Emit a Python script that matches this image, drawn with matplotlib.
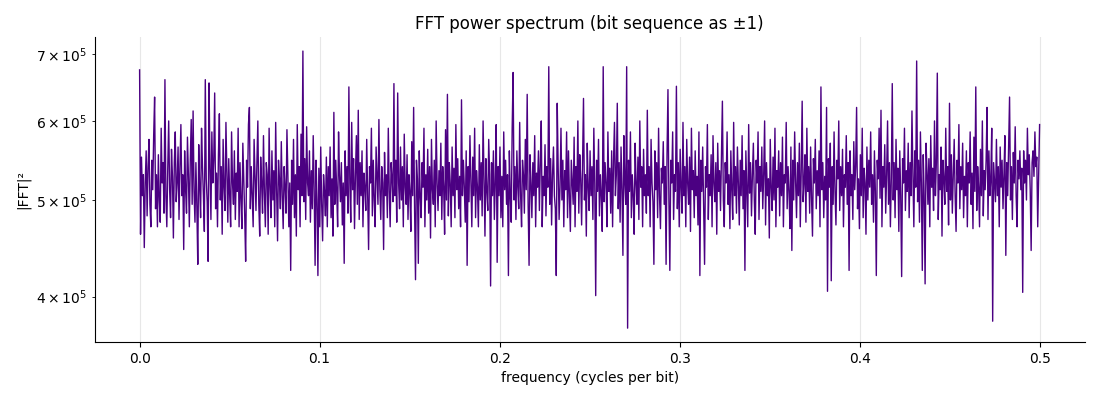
import numpy as np
import matplotlib
matplotlib.use("Agg")
import matplotlib.pyplot as plt

# |FFT|^2 values (in thousands), evenly spaced from f=0 to f=0.5
power_k = [
    675, 462, 552, 505, 530, 448, 520, 560, 482, 540, 575, 495, 470, 548, 512, 580, 634, 490, 530, 470,
    555, 500, 475, 590, 520, 545, 485, 660, 505, 470, 538, 600, 512, 480, 562, 528, 458, 545, 585, 498,
    520, 565, 478, 540, 595, 505, 530, 446, 560, 512, 485, 578, 530, 470, 548, 602, 495, 614, 510, 475,
    545, 492, 431, 568, 515, 480, 590, 540, 505, 465, 660, 525, 498, 434, 655, 540, 478, 585, 520, 548,
    640, 490, 532, 470, 555, 610, 500, 540, 462, 575, 515, 488, 598, 530, 475, 550, 505, 470, 585, 520,
    495, 560, 478, 532, 510, 590, 470, 545, 500, 468, 570, 525, 482, 434, 548, 515, 595, 619, 490, 540,
    505, 470, 575, 530, 488, 545, 600, 495, 460, 552, 520, 485, 580, 508, 470, 545, 530, 462, 590, 515,
    480, 560, 500, 535, 470, 598, 512, 455, 548, 525, 490, 572, 505, 468, 540, 515, 485, 588, 530, 470,
    520, 425, 548, 495, 575, 480, 530, 460, 595, 512, 540, 470, 582, 505, 705, 498, 550, 478, 592, 520,
    505, 560, 475, 535, 490, 580, 512, 430, 548, 500, 420, 538, 470, 565, 495, 455, 530, 510, 482, 552,
    470, 540, 505, 565, 480, 525, 460, 612, 495, 548, 512, 470, 585, 530, 498, 545, 472, 520, 432, 560,
    505, 540, 485, 649, 520, 475, 598, 512, 550, 468, 530, 580, 495, 615, 478, 545, 505, 560, 470, 532,
    515, 488, 575, 505, 446, 540, 520, 590, 482, 548, 500, 470, 565, 530, 495, 602, 512, 478, 540, 520,
    446, 558, 505, 530, 480, 590, 512, 470, 545, 525, 498, 654, 505, 548, 475, 640, 520, 490, 565, 500,
    540, 470, 582, 515, 495, 555, 478, 530, 510, 465, 572, 505, 619, 490, 416, 548, 525, 432, 560, 505,
    480, 545, 515, 590, 470, 530, 500, 562, 485, 540, 458, 575, 512, 495, 548, 470, 600, 520, 488, 535,
    505, 570, 478, 540, 515, 462, 588, 500, 638, 482, 545, 520, 470, 565, 505, 538, 480, 595, 512, 550,
    490, 528, 470, 630, 505, 548, 515, 475, 560, 430, 540, 498, 580, 520, 470, 552, 505, 590, 480, 535,
    515, 470, 568, 500, 545, 482, 600, 525, 460, 550, 510, 488, 575, 530, 410, 545, 505, 560, 478, 520,
    595, 433, 540, 505, 565, 480, 528, 470, 585, 512, 548, 495, 530, 420, 560, 505, 475, 590, 671, 500,
    540, 478, 560, 515, 490, 598, 505, 470, 548, 530, 485, 575, 512, 638, 495, 430, 555, 520, 480, 545,
    505, 580, 470, 532, 515, 560, 488, 545, 600, 470, 528, 505, 568, 482, 540, 515, 680, 495, 550, 472,
    530, 565, 505, 490, 420, 625, 540, 478, 515, 590, 500, 548, 470, 535, 512, 585, 480, 560, 505, 465,
    548, 520, 495, 578, 470, 540, 510, 600, 485, 555, 525, 472, 545, 632, 500, 530, 460, 570, 515, 488,
    560, 505, 540, 478, 590, 520, 401, 548, 510, 575, 482, 530, 505, 465, 680, 498, 545, 520, 470, 585,
    510, 538, 485, 560, 470, 548, 598, 505, 530, 625, 490, 545, 475, 565, 512, 440, 580, 520, 495, 680,
    372, 548, 510, 585, 480, 530, 505, 462, 570, 520, 495, 552, 478, 600, 515, 540, 470, 562, 505, 530,
    485, 615, 505, 540, 470, 575, 520, 498, 431, 560, 512, 545, 480, 590, 505, 468, 538, 520, 572, 495,
    540, 431, 555, 645, 500, 425, 548, 520, 585, 478, 530, 510, 650, 490, 545, 470, 562, 515, 485, 598,
    505, 540, 470, 575, 520, 495, 552, 465, 590, 512, 535, 480, 560, 505, 528, 472, 585, 420, 548, 510,
    565, 490, 431, 540, 515, 595, 478, 530, 505, 555, 470, 580, 520, 498, 545, 462, 570, 510, 535, 488,
    550, 628, 500, 470, 545, 520, 585, 495, 530, 468, 560, 512, 478, 598, 505, 540, 485, 565, 520, 472,
    548, 505, 580, 490, 535, 425, 560, 515, 470, 595, 508, 545, 482, 530, 570, 500, 462, 548, 520, 585,
    478, 540, 510, 565, 490, 530, 600, 472, 545, 505, 525, 458, 575, 515, 488, 552, 500, 590, 470, 535,
    515, 560, 482, 545, 505, 578, 470, 530, 520, 598, 490, 540, 510, 468, 565, 445, 548, 500, 585, 522,
    480, 545, 505, 570, 470, 535, 628, 498, 520, 555, 475, 590, 510, 540, 485, 565, 502, 460, 550, 520,
    575, 490, 535, 505, 560, 470, 649, 512, 545, 480, 528, 500, 619, 405, 550, 515, 570, 415, 540, 495,
    585, 510, 472, 548, 525, 600, 488, 540, 505, 562, 470, 530, 515, 580, 495, 545, 425, 560, 505, 530,
    478, 572, 512, 540, 619, 490, 525, 468, 555, 505, 590, 480, 538, 520, 462, 565, 500, 548, 515, 585,
    495, 530, 475, 560, 510, 420, 548, 525, 590, 502, 615, 470, 540, 515, 568, 485, 530, 600, 495, 545,
    470, 525, 654, 500, 545, 480, 575, 512, 538, 465, 560, 505, 419, 550, 520, 590, 488, 535, 510, 570,
    480, 545, 505, 614, 530, 470, 560, 515, 689, 498, 548, 475, 585, 520, 425, 555, 505, 412, 570, 535,
    495, 550, 470, 580, 515, 538, 488, 600, 505, 545, 670, 478, 530, 512, 565, 460, 548, 525, 495, 590,
    510, 540, 472, 625, 500, 555, 485, 530, 575, 505, 465, 548, 520, 595, 490, 540, 512, 570, 480, 528,
    505, 560, 470, 545, 520, 585, 495, 532, 468, 578, 510, 649, 488, 540, 515, 470, 562, 505, 600, 482,
    535, 512, 548, 619, 478, 560, 505, 525, 590, 378, 545, 520, 498, 575, 505, 540, 470, 565, 515, 548,
    490, 530, 580, 440, 545, 505, 568, 634, 500, 540, 478, 558, 520, 592, 505, 470, 548, 525, 560, 512,
    538, 404, 560, 520, 548, 500, 590, 530, 555, 512, 445, 545, 560, 528, 585, 540, 552, 470, 530, 595,
]

f_max = 0.5

power = np.array(power_k, dtype=float) * 1e3
freq = np.linspace(0.0, f_max, len(power))

fig, ax = plt.subplots(figsize=(11, 4), dpi=100)
fig.subplots_adjust(left=0.086, right=0.986, top=0.907, bottom=0.145)

ax.plot(freq, power, color="#4B0082", linewidth=1.0)
ax.set_yscale("log")

ax.set_title("FFT power spectrum (bit sequence as \u00b11)", fontsize=12)
ax.set_xlabel("frequency (cycles per bit)")
ax.set_ylabel("|FFT|\u00b2")

ax.grid(True, axis="x", alpha=0.3)
ax.spines["top"].set_visible(False)
ax.spines["right"].set_visible(False)

fig.savefig("out.png")
plt.close(fig)
